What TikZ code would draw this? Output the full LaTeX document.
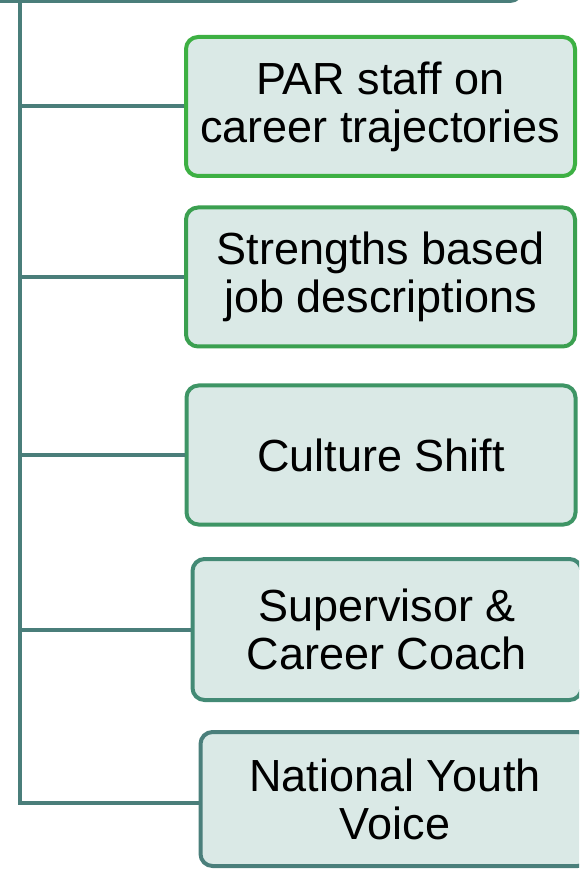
\documentclass[tikz,border=0pt]{standalone}
\usepackage{fontspec}
\setmainfont{Liberation Sans}
\usetikzlibrary{positioning}
\definecolor{trunk}{HTML}{4A7E7A}
\definecolor{leaffill}{HTML}{DAE9E6}
\definecolor{leafA}{HTML}{3DB043}
\definecolor{leafB}{HTML}{3BA050}
\definecolor{leafC}{HTML}{3E9565}
\definecolor{leafD}{HTML}{438A75}
\definecolor{leafE}{HTML}{4A7F7B}

\begin{document}
\begin{tikzpicture}[x=0.5pt,y=-0.5pt,
        leaf/.style={draw=#1,line width=2pt,fill=leaffill,rounded corners=6pt,align=center,
            inner sep=0pt,minimum width=194.5pt,minimum height=69.5pt,
            font=\fontsize{22.5}{24}\selectfont},
        link/.style={draw=trunk,line width=2pt}]
    \useasboundingbox (0,0) rectangle (579,870);
    \clip (0,0) rectangle (579,870);
    % parent box, cut off at the top
    \draw[trunk,line width=2pt,fill=white,rounded corners=6pt] (-20,-100) rectangle (522,1);
    \coordinate (top) at (19.5,1);
    \node[leaf=leafA] (par) at (380.5,106.5) {PAR staff on\\career trajectories};
    \node[leaf=leafB] (strengths) at (380.5,277) {Strengths based\\job descriptions};
    \node[leaf=leafC] (culture) at (381,455) {Culture Shift};
    \node[leaf=leafD,minimum height=70.5pt] (coach) at (387,629.5) {Supervisor \&\\Career Coach};
    \node[leaf=leafE,minimum height=67pt] (voice) at (395,799) {National Youth\\Voice};
    \draw[link] (top) |- ([yshift=-2pt]voice.west);
    \foreach \n in {par,strengths,culture,coach}
        \draw[link] (\n.west) -- (\n.west -| top);
\end{tikzpicture}
\end{document}
